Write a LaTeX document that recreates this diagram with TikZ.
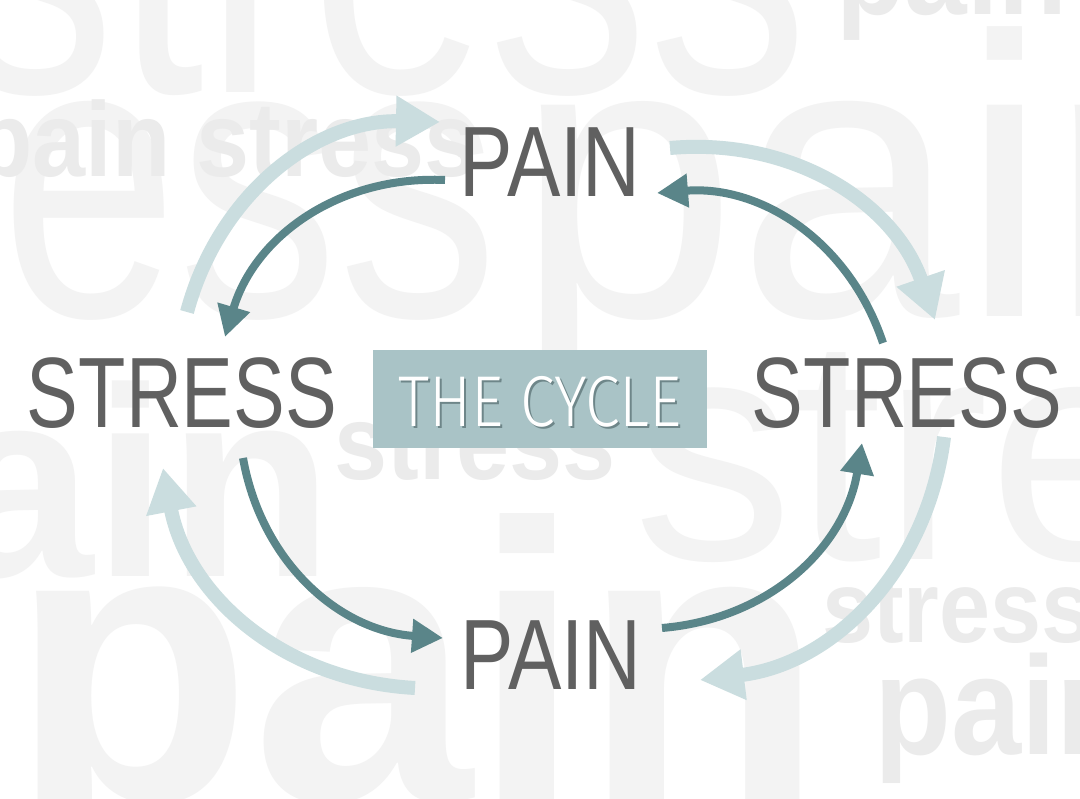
\documentclass[tikz,border=0pt]{standalone}
\usepackage{fontspec}
\setmainfont{Liberation Sans}
\newfontfamily\condfont[FakeStretch=0.8]{Liberation Sans}
\newfontfamily\condnarrow[FakeStretch=0.775]{Liberation Sans}
\newfontfamily\lightfont[FakeStretch=0.87]{Fira Sans Light}
\newfontfamily\ghostfont[FakeStretch=0.8]{Liberation Sans}
\newfontfamily\ghostbold[FakeStretch=0.9]{Liberation Sans Bold}
\usetikzlibrary{arrows.meta}

\definecolor{inkgray}{HTML}{606060}
\definecolor{ghost}{HTML}{F3F3F3}
\definecolor{ghostdark}{HTML}{EBEBEB}
\definecolor{tealdark}{HTML}{5A8589}
\definecolor{teallight}{HTML}{CADDDF}
\definecolor{boxteal}{HTML}{A9C3C6}
\definecolor{shadowteal}{HTML}{6E8689}

\begin{document}
\begin{tikzpicture}[x=1pt, y=1pt,
		ghostword/.style={anchor=base west, inner sep=0pt, text=ghost},
		ghostsmall/.style={anchor=base west, inner sep=0pt, text=ghostdark},
		stateword/.style={anchor=base, inner sep=0pt, text=inkgray, font=\condfont\fontsize{100}{100}\selectfont},
		stressword/.style={stateword, font=\condnarrow\fontsize{100}{100}\selectfont},
		darkarc/.style={-{Triangle[length=31pt,width=32pt]}, tealdark, line width=8pt},
		lightarc/.style={-{Triangle[length=44pt,width=48pt]}, teallight, line width=14pt}]
		
		% --- MARCO ---
		\useasboundingbox (0,0) rectangle (1080,799);
		\clip (0,0) rectangle (1080,799);
		\fill[white] (0,0) rectangle (1080,799);
		
		% --- PALABRAS DE FONDO ---
		\node[ghostword, font=\ghostfont\fontsize{400}{400}\selectfont] (bg1) at (-45,706) {stress};
		\node[ghostword, font=\ghostfont\fontsize{400}{400}\selectfont] (bg2) at (-355,482) {stress};
		\node[ghostword, font=\fontsize{400}{400}\selectfont] (bg3) at (515,482) {pain};
		\node[ghostword, font=\bfseries\fontsize{270}{270}\selectfont] (bg4) at (-222,222) {pain};
		\node[ghostword, font=\fontsize{320}{320}\selectfont] (bg5) at (633,239) {stress};
		\node[ghostword, font=\bfseries\fontsize{396}{396}\selectfont] (bg6) at (10,-2) {pain};
		\node[ghostsmall, font=\ghostbold\fontsize{106}{106}\selectfont] (bg7) at (-26,622) {pain stress};
		\node[ghostsmall, font=\ghostbold\fontsize{106}{106}\selectfont] (bg8) at (334,319) {stress};
		\node[ghostsmall, font=\ghostbold\fontsize{102}{102}\selectfont] (bg9) at (822,156) {stress};
		\node[ghostsmall, font=\ghostbold\fontsize{140}{140}\selectfont] (bg10) at (874,44) {pain};
		\node[ghostsmall, font=\ghostbold\fontsize{125}{125}\selectfont] (bg11) at (836,784) {pain};
		
		% --- CAJA CENTRAL ---
		\node[fill=boxteal, minimum width=334pt, minimum height=98pt, inner sep=0pt] (cycle) at (540,400) {};
		\node[text=shadowteal, font=\lightfont\fontsize{72}{72}\selectfont, inner sep=0pt] at ([shift={(2,-5)}]cycle.center) {THE CYCLE};
		\node[text=white, font=\lightfont\fontsize{72}{72}\selectfont, inner sep=0pt] (cycletext) at ([shift={(0,-3)}]cycle.center) {THE CYCLE};
		
		% --- ESTADOS ---
		\node[stateword] (ptop) at (550,602) {PAIN};
		\node[stressword] (sleft) at (182,371) {STRESS};
		\node[stressword] (sright) at (907,371) {STRESS};
		\node[stateword] (pbot) at (551,109) {PAIN};
		
		% --- CICLO EXTERIOR (claro) ---
		\draw[lightarc] ([shift={(5,116)}]sleft.base) to[bend left=38] ([shift={(-110,75)}]ptop.base);
		\draw[lightarc] ([shift={(120,49)}]ptop.base) to[bend left=38] ([shift={(28,108)}]sright.base);
		\draw[lightarc] ([shift={(37,-9)}]sright.base) to[bend left=38] ([shift={(149,10)}]pbot.base);
		\draw[lightarc] ([shift={(-136,2)}]pbot.base) to[bend left=38] ([shift={(-19,-40)}]sleft.base);
		
		% --- CICLO INTERIOR (oscuro) ---
		\draw[darkarc] ([shift={(-105,17)}]ptop.base) to[bend right=38] ([shift={(43,91)}]sleft.base);
		\draw[darkarc] ([shift={(-24,85)}]sright.base) to[bend right=38] ([shift={(107,4)}]ptop.base);
		\draw[darkarc] ([shift={(61,-30)}]sleft.base) to[bend right=38] ([shift={(-108,52)}]pbot.base);
		\draw[darkarc] ([shift={(111,62)}]pbot.base) to[bend right=38] ([shift={(-45,-15)}]sright.base);
		
	\end{tikzpicture}
\end{document}
